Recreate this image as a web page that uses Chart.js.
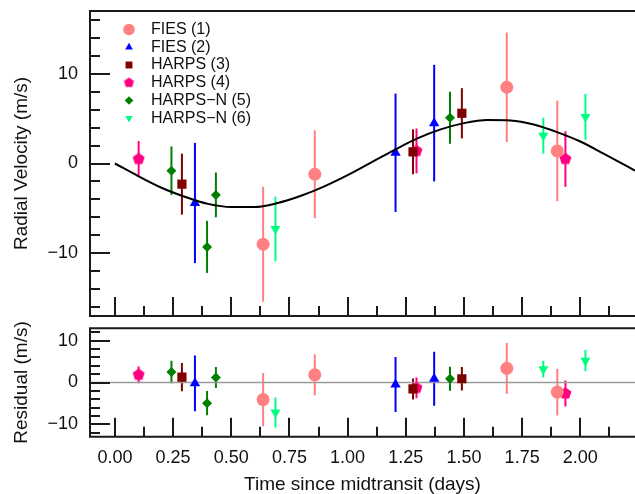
<!DOCTYPE html>
<html>
<head>
<meta charset="utf-8">
<script src="https://cdn.jsdelivr.net/npm/chart.js@4.4.1/dist/chart.umd.min.js"></script>
<style>
html, body { margin: 0; padding: 0; background: #fff; overflow: hidden; }
#wrap { position: relative; width: 635px; height: 494px; }
canvas { position: absolute; left: 0; }
#rvChart { top: 0; }
#resChart { top: 318px; }
</style>
</head>
<body>
<div id="wrap">
  <canvas id="rvChart" width="635" height="318"></canvas>
  <canvas id="resChart" width="635" height="178"></canvas>
</div>
<script>
// time since midtransit (days), radial velocity (m/s), error (m/s), residual (m/s)
const fies1X = [0.637, 0.859, 1.684, 1.901];
const fies1Rv = [-9.0, -1.2, 8.5, 1.4];
const fies1Err = [6.4, 4.9, 6.1, 5.6];
const fies1Res = [-4.1, 1.85, 3.4, -2.3];

const fies2X = [0.344, 1.206, 1.372];
const fies2Rv = [-4.4, 1.2, 4.5];
const fies2Err = [6.7, 6.6, 6.5];
const fies2Res = [-0.2, -0.5, 0.9];

const harps3X = [0.288, 1.281, 1.491];
const harps3Rv = [-2.3, 1.3, 5.6];
const harps3Err = [3.4, 2.5, 2.8];
const harps3Res = [1.3, -1.55, 0.9];

const harps4X = [0.102, 1.296, 1.936];
const harps4Rv = [0.5, 1.4, 0.5];
const harps4Err = [2.0, 2.5, 3.1];
const harps4Res = [1.85, -1.3, -2.65];

const harpsn5X = [0.243, 0.396, 0.434, 1.440];
const harpsn5Rv = [-0.8, -9.3, -3.5, 5.1];
const harpsn5Err = [2.7, 2.9, 2.5, 2.9];
const harpsn5Res = [2.5, -4.95, 1.2, 0.9];

const harpsn6X = [0.690, 1.841, 2.022];
const harpsn6Rv = [-7.3, 3.1, 5.2];
const harpsn6Err = [3.6, 2.0, 2.55];
const harpsn6Res = [-7.2, 3.2, 5.25];

// model curve
const modelX = [0, 0.1, 0.2, 0.3, 0.4, 0.5, 0.6, 0.7, 0.8, 0.9, 1.0, 1.1, 1.2, 1.3, 1.4, 1.5, 1.6, 1.7, 1.8, 1.9, 2.0, 2.1, 2.2, 2.235];
const modelRv = [0, -1.4, -2.7, -3.7, -4.5, -4.85, -4.85, -4.4, -3.6, -2.55, -1.3, 0.1, 1.5, 2.8, 3.8, 4.5, 4.85, 4.8, 4.35, 3.5, 2.45, 1.1, -0.3, -0.8];

// ticks
const xTicks = [0, 0.125, 0.25, 0.375, 0.5, 0.625, 0.75, 0.875, 1.0, 1.125, 1.25, 1.375, 1.5, 1.625, 1.75, 1.875, 2.0, 2.125];
const xMajor = [0, 0.25, 0.5, 0.75, 1.0, 1.25, 1.5, 1.75, 2.0];
const xMajorLabels = ['0.00', '0.25', '0.50', '0.75', '1.00', '1.25', '1.50', '1.75', '2.00'];
const rvTicks = [-16, -14, -12, -10, -8, -6, -4, -2, 0, 2, 4, 6, 8, 10, 12, 14, 16];
const resTicks = [-12, -10, -8, -6, -4, -2, 0, 2, 4, 6, 8, 10, 12];
const yMajor = [-10, 0, 10];
const yMajorLabels = ['\u221210', '0', '10'];

const X_MIN = -0.107, X_MAX = 2.235;
const FONT = "'Liberation Sans', Arial, Helvetica, sans-serif";

function pentagon(r, color) {
  const c = document.createElement('canvas');
  const s = Math.ceil(r * 2 + 2);
  c.width = s; c.height = s;
  const g = c.getContext('2d');
  g.fillStyle = color;
  g.beginPath();
  for (let i = 0; i < 5; i++) {
    const a = -Math.PI / 2 + i * 2 * Math.PI / 5;
    const px = s / 2 + r * Math.cos(a), py = s / 2 + r * Math.sin(a);
    if (i) g.lineTo(px, py); else g.moveTo(px, py);
  }
  g.closePath();
  g.fill();
  return c;
}

const instruments = [
  { label: 'FIES (1)', color: '#ff8080', x: fies1X, rv: fies1Rv, err: fies1Err, res: fies1Res, style: 'circle', rot: 0, r: 6.5, lr: 5.8 },
  { label: 'FIES (2)', color: '#0000ff', x: fies2X, rv: fies2Rv, err: fies2Err, res: fies2Res, style: 'triangle', rot: 0, r: 6, lr: 4.5 },
  { label: 'HARPS (3)', color: '#800000', x: harps3X, rv: harps3Rv, err: harps3Err, res: harps3Res, style: 'rect', rot: 0, r: 6.5, lr: 4.9 },
  { label: 'HARPS (4)', color: '#ff0080', x: harps4X, rv: harps4Rv, err: harps4Err, res: harps4Res, style: pentagon(6.3, '#ff0080'), rot: 0, r: 6.3, lr: 5.3, legendStyle: pentagon(5.3, '#ff0080') },
  { label: 'HARPS\u2212N (5)', color: '#008000', x: harpsn5X, rv: harpsn5Rv, err: harpsn5Err, res: harpsn5Res, style: 'rectRot', rot: 0, r: 5, lr: 4.3 },
  { label: 'HARPS\u2212N (6)', color: '#00ff80', x: harpsn6X, rv: harpsn6Rv, err: harpsn6Err, res: harpsn6Res, style: 'triangle', rot: 180, r: 5.8, lr: 4.3 }
];

function pts(xs, ys) { return xs.map((x, i) => ({ x: x, y: ys[i] })); }

function pointSets(key) {
  return instruments.map(ins => ({
    label: ins.label,
    data: pts(ins.x, ins[key]),
    err: ins.err,
    backgroundColor: ins.color,
    pointStyle: ins.style,
    rotation: ins.rot,
    pointRadius: ins.r,
    pointBorderWidth: 0,
    legendStyle: ins.legendStyle || ins.style,
    legendRadius: ins.lr,
    order: 1
  }));
}

// vertical error bars under the markers
const errorBars = {
  id: 'errorBars',
  beforeDatasetsDraw(chart) {
    const { ctx, chartArea: a, scales: { x, y } } = chart;
    ctx.save();
    ctx.beginPath();
    ctx.rect(a.left, a.top, a.right - a.left, a.bottom - a.top);
    ctx.clip();
    ctx.lineWidth = 2;
    chart.data.datasets.forEach(ds => {
      if (!ds.err) return;
      ctx.strokeStyle = ds.backgroundColor;
      ds.data.forEach((p, i) => {
        const px = x.getPixelForValue(p.x);
        ctx.beginPath();
        ctx.moveTo(px, y.getPixelForValue(p.y - ds.err[i]));
        ctx.lineTo(px, y.getPixelForValue(p.y + ds.err[i]));
        ctx.stroke();
      });
    });
    ctx.restore();
  }
};

// box edges and inward tick marks
const frame = {
  id: 'frame',
  afterDraw(chart, args, opts) {
    const { ctx, chartArea: a, scales: { x, y } } = chart;
    ctx.save();
    ctx.strokeStyle = '#1a1a1a';
    ctx.lineWidth = 2;
    ctx.beginPath();
    ctx.moveTo(a.right + 2, a.top);
    ctx.lineTo(a.left, a.top);
    ctx.lineTo(a.left, a.bottom);
    ctx.lineTo(a.right + 2, a.bottom);
    opts.yTicks.forEach(v => {
      const py = Math.round(y.getPixelForValue(v));
      const len = yMajor.includes(v) ? 20 : 10;
      ctx.moveTo(a.left, py);
      ctx.lineTo(a.left + len, py);
    });
    xTicks.forEach(v => {
      const px = Math.round(x.getPixelForValue(v));
      const len = xMajor.includes(v) ? 19 : 10;
      ctx.moveTo(px, a.bottom);
      ctx.lineTo(px, a.bottom - len);
    });
    ctx.stroke();
    ctx.restore();
  }
};

// legend inside the upper panel
const insideLegend = {
  id: 'insideLegend',
  afterDraw(chart) {
    const { ctx } = chart;
    ctx.save();
    ctx.font = '16px ' + FONT;
    ctx.textBaseline = 'middle';
    ctx.textAlign = 'left';
    let row = 0;
    chart.data.datasets.forEach(ds => {
      if (!ds.err) return;
      const cy = 29.5 + row * 17.75;
      ctx.fillStyle = ds.backgroundColor;
      Chart.helpers.drawPoint(ctx, { pointStyle: ds.legendStyle, rotation: ds.rotation, radius: ds.legendRadius, borderWidth: 0 }, 129, cy);
      ctx.fillStyle = '#111';
      ctx.fillText(ds.label, 151, cy);
      row++;
    });
    ctx.restore();
  }
};

function noPad(s) {
  s.paddingTop = 0; s.paddingBottom = 0; s.paddingLeft = 0; s.paddingRight = 0;
}

function yAxis(min, max, ticks, title) {
  return {
    type: 'linear',
    min: min,
    max: max,
    afterBuildTicks: s => { s.ticks = ticks.map(v => ({ value: v })); },
    afterFit: s => { s.width = 90; noPad(s); },
    ticks: {
      autoSkip: false,
      padding: 12,
      color: '#111',
      font: { family: FONT, size: 18 },
      callback: v => { const k = yMajor.indexOf(v); return k < 0 ? '' : yMajorLabels[k]; }
    },
    grid: { display: false, drawTicks: false },
    border: { display: false },
    title: { display: true, text: title, color: '#111', font: { family: FONT, size: 19 }, padding: { top: 10.5, bottom: 0 } }
  };
}

const rvDatasets = pointSets('rv');
rvDatasets.push({
  label: 'model',
  data: pts(modelX, modelRv),
  showLine: true,
  borderColor: '#000',
  borderWidth: 2,
  pointRadius: 0,
  cubicInterpolationMode: 'monotone',
  order: 0
});

new Chart(document.getElementById('rvChart'), {
  type: 'scatter',
  data: { datasets: rvDatasets },
  options: {
    responsive: false,
    animation: false,
    events: [],
    layout: { autoPadding: false, padding: { top: 11, bottom: 2, left: 0, right: 0 } },
    scales: {
      x: { type: 'linear', min: X_MIN, max: X_MAX, display: false, afterFit: noPad },
      y: yAxis(-17, 17, rvTicks, 'Radial Velocity (m/s)')
    },
    plugins: {
      legend: { display: false },
      tooltip: { enabled: false },
      frame: { yTicks: rvTicks }
    }
  },
  plugins: [errorBars, frame, insideLegend]
});

const resDatasets = pointSets('res');
resDatasets.push({
  label: 'zero',
  data: [{ x: X_MIN, y: 0 }, { x: X_MAX, y: 0 }],
  showLine: true,
  borderColor: '#9a9a9a',
  borderWidth: 1.5,
  pointRadius: 0,
  order: 5
});

new Chart(document.getElementById('resChart'), {
  type: 'scatter',
  data: { datasets: resDatasets },
  options: {
    responsive: false,
    animation: false,
    events: [],
    layout: { autoPadding: false, padding: { top: 10.3, bottom: 0, left: 0, right: 0 } },
    scales: {
      x: {
        type: 'linear',
        min: X_MIN,
        max: X_MAX,
        afterBuildTicks: s => { s.ticks = xMajor.map(v => ({ value: v })); },
        afterFit: s => { s.height = 59.3; noPad(s); },
        ticks: {
          autoSkip: false,
          maxRotation: 0,
          padding: 11,
          color: '#111',
          font: { family: FONT, size: 18 },
          callback: v => { const k = xMajor.indexOf(v); return k < 0 ? '' : xMajorLabels[k]; }
        },
        grid: { display: false, drawTicks: false },
        border: { display: false },
        title: { display: true, text: 'Time since midtransit (days)', color: '#111', font: { family: FONT, size: 19 }, padding: { top: 0, bottom: 0 } }
      },
      y: yAxis(-13, 13, resTicks, 'Residual (m/s)')
    },
    plugins: {
      legend: { display: false },
      tooltip: { enabled: false },
      frame: { yTicks: resTicks }
    }
  },
  plugins: [errorBars, frame]
});
</script>
</body>
</html>
